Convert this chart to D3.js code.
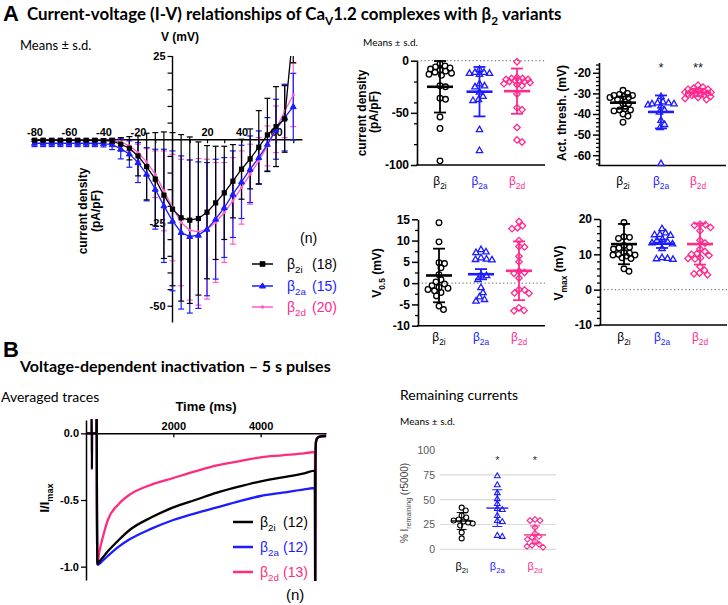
<!DOCTYPE html>
<html><head><meta charset="utf-8">
<script src="https://cdn.jsdelivr.net/npm/d3@7/dist/d3.min.js"></script>
<style>html,body{margin:0;padding:0;background:#fff;}svg{display:block;}</style>
</head><body>
<svg id="fig" width="728" height="605" xmlns="http://www.w3.org/2000/svg"></svg>
<script>
// ================= DATA =================
const groupSubs = ['2i', '2a', '2d'];

// Panel A – I-V curves
const ivVoltage = [-80,-75,-70,-65,-60,-55,-50,-45,-40,-35,-30,-25,-20,-15,-10,-5,0,5,10,15,20,25,30,35,40,45,50,55,60,65,70];
const ivB2iMean = [-0.3,-0.3,-0.3,-0.3,-0.3,-0.3,-0.3,-0.3,-0.4,-0.5,-1.5,-2.7,-5.0,-8.2,-12.0,-16.8,-21.0,-23.6,-24.3,-23.8,-21.9,-19.1,-16.1,-12.6,-9.0,-5.9,-2.4,1.3,3.8,6.1,33.0];
const ivB2iSd   = [0.3,0.3,0.3,0.3,0.3,0.3,0.3,0.4,0.5,0.8,2,3.5,6,10,14,19,23,25,25,23,20,17,14,11,9,9,11,11,12,10,10];
const ivB2aMean = [-1.2,-1.2,-1.2,-1.2,-1.2,-1.2,-1.2,-1.2,-1.3,-1.6,-2.9,-4.4,-7.0,-10.5,-15.0,-20.0,-24.5,-28.0,-29.2,-28.8,-27.0,-24.0,-20.5,-16.5,-12.8,-9.0,-5.5,-1.5,3.0,6.5,9.8];
const ivB2aSd   = [1,1,1,1,1,1,1,1,1,1.5,3,4,6,8,12,17,21,23,23,22,20,18,15,13,11,10,8,8,9,10,10];
const ivB2dMean = [-0.3,-0.3,-0.3,-0.3,-0.3,-0.3,-0.3,-0.3,-0.3,-0.4,-0.8,-2.0,-4.0,-6.8,-10.5,-15.5,-20.5,-25.0,-27.3,-27.8,-27.0,-25.0,-22.0,-18.5,-14.5,-10.5,-6.5,-2.0,3.0,8.5,13.3];
const ivB2dSd   = [0.4,0.4,0.4,0.4,0.4,0.4,0.4,0.4,0.4,0.5,1,1.5,2.5,4,7,12,16,19,21,22,21,18,15,13,11,9,7,6,7,8,9.5];
const ivN = [18, 15, 20];
const ivXTickMarks = [-80,-70,-60,-50,-40,-30,-20,-10,10,20,30,40,50,60,70];
const ivXTicks = [-80,-60,-40,-20,20,40,60];
const ivYTickMarks = [25,20,15,10,5,-5,-10,-15,-20,-25,-30,-35,-40,-45,-50];
const ivYTicks = [25,-25,-50];

// Current density (pA/pF)
const cdB2i = [-3,-5,-6,-7,-8,-9,-10,-11,-12,-13,-14,-24,-25,-36,-37,-54,-65,-96];
const cdB2a = [-8,-11,-11,-12,-12,-13,-22,-24,-25,-30,-34,-37,-38,-66,-86];
const cdB2d = [-1,-16,-17,-17,-18,-18,-19,-19,-20,-20,-21,-22,-23,-24,-32,-45,-47,-64,-76,-78];
const cdMean = [-25.0,-29.7,-29.2];
const cdSd = [24.7,23.7,21.7];
const cdTicks = [0,-50,-100];
const cdMinor = [-20,-40,-60,-80];

// Activation threshold (mV)
const thrB2i = [-28.5,-30,-30.5,-31,-31,-31.5,-32,-32,-33,-35,-35,-37.5,-38,-38,-38.5,-40,-41,-44];
const thrB2a = [-31.5,-34,-34.5,-34.5,-35,-35,-35.5,-36,-38,-39,-43,-45,-46.5,-64];
const thrB2d = [-26,-27,-27.5,-28,-28,-28.5,-29,-29,-29.5,-29.5,-30,-30,-30,-30.5,-31,-31,-31.5,-32,-32.5,-33];
const thrMean = [-34.5,-39.0,-29.6];
const thrSd = [3,8,1.8];
const thrTicks = [-20,-30,-40,-50,-60];
const thrMinor = [-16,-18,-22,-24,-26,-28,-32,-34,-36,-38,-42,-44,-46,-48,-52,-54,-56,-58,-62,-64];
const thrStars = ['', '*', '**'];

// V0.5 (mV)
const vhB2i = [14.2,9.7,4.8,4.6,3.6,2.0,0.8,0.3,-0.2,-0.6,-1.0,-1.2,-1.5,-1.8,-2.2,-3.0,-5.4,-6.2];
const vhB2a = [7.9,7.4,7.2,6.0,5.7,5.6,5.5,2.0,1.8,0.9,-1.0,-2.2,-3.2,-3.8,-4.2];
const vhB2d = [14.5,13.5,13.0,12.8,10.0,8.6,8.5,6.3,5.0,2.8,2.5,2.3,1.2,-1.5,-1.6,-2.3,-2.4,-5.8,-6.4,-6.5];
const vhMean = [1.8,2.1,2.9];
const vhSd = [6.3,1.2,6.9];
const vhTicks = [15,10,5,0,-5,-10];
const vhMinor = [12.5,7.5,2.5,-2.5,-7.5];

// Vmax (mV)
const vmB2i = [19.0,15.0,14.8,14.5,12.5,12.0,11.8,11.5,10.5,10.3,10.0,9.8,9.8,9.5,9.0,8.8,5.9,5.2];
const vmB2a = [17.3,16.1,15.7,15.6,15.4,14.3,14.0,13.6,13.3,13.0,11.7,9.1,8.9,8.8,8.6];
const vmB2d = [18.5,18.4,18.2,17.6,16.7,14.0,13.2,11.5,10.8,10.2,10.0,9.7,9.0,8.8,8.7,6.5,5.5,4.7,4.5,4.2];
const vmMean = [12.9,13.0,12.9];
const vmSd = [5.7,1.2,5.8];
const vmTicks = [20,10,0,-10];
const vmMinor = [18,16,14,12,8,6,4,2,-2,-4,-6,-8];

// Panel B – averaged traces (time in ms, normalized current)
const traceTime = [0,125,130,135,140,240,245,250,262,300,400,500,750,1000,1500,2000,2500,3000,3500,4000,4500,5000,5245,5250,5256,5270,5300,5350,5450,5500];
const traceB2i = [0,0,0.2,-0.27,0,0,0.2,-0.5,-0.98,-0.965,-0.925,-0.885,-0.80,-0.725,-0.63,-0.555,-0.50,-0.445,-0.40,-0.36,-0.33,-0.30,-0.28,-1.3,-0.2,-0.06,-0.035,-0.025,-0.02,-0.02];
const traceB2a = [0,0,0,0,0,0,0.2,-0.5,-0.985,-0.98,-0.95,-0.92,-0.85,-0.795,-0.715,-0.65,-0.60,-0.555,-0.51,-0.47,-0.445,-0.42,-0.41,-1.3,-0.2,-0.06,-0.035,-0.025,-0.02,-0.02];
const traceB2d = [0,0,0,0,0,0,0.2,-0.5,-0.98,-0.90,-0.76,-0.65,-0.53,-0.46,-0.385,-0.335,-0.285,-0.24,-0.21,-0.18,-0.165,-0.15,-0.14,-1.3,-0.2,-0.06,-0.035,-0.025,-0.02,-0.02];
const traceN = [12, 12, 13];
const traceXTicks = [2000, 4000];
const traceYTicks = [0, -0.5, -1.0];

// Remaining currents (%)
const remB2i = [42,39,34,32,30,29,28,27,26,24,17,11];
const remB2a = [74,65,57,51,46,41,40,34,29,28,14,13];
const remB2d = [30,29,29,22,16,13,12,10,8,5,4,3,2];
const remMean = [28.5,41.5,14.5];
const remSd = [8.5,18.5,9];
const remTicks = [0,25,50,75,100];
const remGrid = [0,25,50,75];
const remStars = ['', '*', '*'];

// ================= DRAWING =================
const svg = d3.select('#fig');
const ARIAL = "'Liberation Sans', Arial, sans-serif";
const CAL = "Lato, 'Open Sans', sans-serif";
const C_BLACK = '#000000', C_BLUE = '#1c1cff', C_PINK = '#ff2a8c', C_PINK_IV = '#ff5cc6', C_PINK_TR = '#ff2b80';
const groupColors = [C_BLACK, C_BLUE, C_PINK];
const defs = svg.append('defs');

function fitWidth(sel, w) {
  const cur = sel.node().getBBox().width;
  const fs = parseFloat(sel.attr('font-size'));
  sel.attr('font-size', fs * w / cur);
}
function richText(g, x, y, parts, o) {
  const t = g.append('text').attr('x', x).attr('y', y)
    .attr('font-family', o.font || ARIAL).attr('font-size', o.size)
    .attr('font-weight', o.weight || 'normal').attr('fill', o.color || '#000')
    .attr('text-anchor', o.anchor || 'start');
  if (o.transform) t.attr('transform', o.transform);
  let down = false;
  parts.forEach(([s, sub]) => {
    const ts = t.append('tspan').text(s);
    if (sub && !down) { ts.attr('font-size', '70%').attr('dy', '0.43em'); down = true; }
    else if (sub && down) { ts.attr('font-size', '70%'); }
    else if (!sub && down) { ts.attr('dy', '-0.3em'); down = false; }
  });
  return t;
}
function marker(g, type, x, y, s, color, sw, fill) {
  if (type === 'circle') {
    g.append('circle').attr('cx', x).attr('cy', y).attr('r', s)
      .attr('fill', fill || 'none').attr('stroke', color).attr('stroke-width', sw);
  } else if (type === 'triangle') {
    const a = s * 1.2;
    g.append('path').attr('d', `M${x},${y - a}L${x + a * 0.95},${y + a * 0.65}L${x - a * 0.95},${y + a * 0.65}Z`)
      .attr('fill', fill || 'none').attr('stroke', color).attr('stroke-width', sw);
  } else if (type === 'diamond') {
    const a = s * 1.15;
    g.append('path').attr('d', `M${x},${y - a}L${x + a},${y}L${x},${y + a}L${x - a},${y}Z`)
      .attr('fill', fill || 'none').attr('stroke', color).attr('stroke-width', sw);
  } else if (type === 'square') {
    g.append('rect').attr('x', x - s).attr('y', y - s).attr('width', 2 * s).attr('height', 2 * s)
      .attr('fill', color);
  } else if (type === 'dot') {
    g.append('circle').attr('cx', x).attr('cy', y).attr('r', s).attr('fill', color);
  }
}
// compact beeswarm: spread points sideways, limited to +-maxOff (overlap allowed when crowded)
function swarm(vals, y, cx, rc, maxOff) {
  const pts = vals.map(v => ({ v, y: y(v) })).sort((a, b) => a.y - b.y);
  const placed = [];
  pts.forEach(p => {
    let best = 0, bestScore = -1;
    for (let k = 0; ; k++) {
      const off = (k % 2 ? 1 : -1) * Math.ceil(k / 2) * 0.5;
      if (Math.abs(off) > maxOff) break;
      const md = placed.length ? Math.min(...placed.map(q => Math.hypot(q.x - (cx + off), q.y - p.y))) : Infinity;
      if (md >= 2 * rc) { best = off; break; }
      if (md > bestScore) { bestScore = md; best = off; }
    }
    p.x = cx + best; placed.push(p);
  });
  return pts;
}

// ---------- Headers ----------
svg.append('text').attr('x', 3).attr('y', 21).attr('font-family', ARIAL).attr('font-weight', 'bold')
  .attr('font-size', 22).text('A');
const tA = richText(svg, 27, 20, [['Current-voltage (I-V) relationships of Ca', 0], ['V', 1], ['1.2 complexes with β', 0], ['2', 1], [' variants', 0]],
  { font: CAL, size: 16, weight: 'bold' });
fitWidth(tA, 535);
svg.append('text').attr('x', 20).attr('y', 50).attr('font-family', CAL).attr('font-size', 13).text('Means ± s.d.');
svg.append('text').attr('x', 363).attr('y', 46).attr('font-family', CAL).attr('font-size', 10).text('Means ± s.d.');

svg.append('text').attr('x', 3).attr('y', 357).attr('font-family', ARIAL).attr('font-weight', 'bold')
  .attr('font-size', 22).text('B');
const tB = svg.append('text').attr('x', 20).attr('y', 372).attr('font-family', CAL).attr('font-weight', 'bold')
  .attr('font-size', 16).text('Voltage-dependent inactivation – 5 s pulses');
fitWidth(tB, 312);
svg.append('text').attr('x', 1).attr('y', 402).attr('font-family', CAL).attr('font-size', 14).text('Averaged traces');
svg.append('text').attr('x', 400).attr('y', 400).attr('font-family', CAL).attr('font-size', 14).text('Remaining currents');
svg.append('text').attr('x', 400).attr('y', 425).attr('font-family', CAL).attr('font-size', 10).text('Means ± s.d.');

// ---------- I-V chart ----------
(function () {
  const g = svg.append('g');
  const x = d3.scaleLinear().domain([-80, 75]).range([34.5, 301.9]);
  const y = d3.scaleLinear().domain([25, -55]).range([56, 322.4]);
  defs.append('clipPath').attr('id', 'ivClip').append('rect').attr('x', 25).attr('y', 56).attr('width', 285).attr('height', 268);

  const ya = g.append('g').attr('transform', `translate(${x(0)},0)`)
    .call(d3.axisLeft(y).tickValues(ivYTickMarks).tickSize(5).tickSizeOuter(0).tickPadding(2)
      .tickFormat(d => ivYTicks.includes(d) ? String(d) : ''));
  const xa = g.append('g').attr('transform', `translate(0,${y(0)})`)
    .call(d3.axisBottom(x).tickValues(ivXTickMarks).tickSize(4).tickSizeOuter(0)
      .tickFormat(d => ivXTicks.includes(d) ? String(d) : ''));
  xa.selectAll('text').attr('y', -3).attr('dy', 0);
  [ya, xa].forEach(a => {
    a.selectAll('text').attr('font-family', ARIAL).attr('font-weight', 'bold').attr('font-size', 11).attr('fill', '#000');
    a.select('.domain').attr('stroke-width', 1.4);
    a.selectAll('.tick line').attr('stroke-width', 1.2);
  });
  ya.select('.domain').attr('d', `M0,${y(25)}V${y(-55)}`);

  g.append('text').attr('x', 180).attr('y', 41).attr('text-anchor', 'middle').attr('font-family', ARIAL)
    .attr('font-weight', 'bold').attr('font-size', 12).text('V (mV)');
  g.append('text').attr('transform', 'translate(87,211) rotate(-90)').attr('text-anchor', 'middle')
    .attr('font-family', ARIAL).attr('font-weight', 'bold').attr('font-size', 12).text('current density');
  g.append('text').attr('transform', 'translate(100,211) rotate(-90)').attr('text-anchor', 'middle')
    .attr('font-family', ARIAL).attr('font-weight', 'bold').attr('font-size', 12).text('(pA/pF)');

  const series = [
    { m: ivB2dMean, s: ivB2dSd, c: C_PINK_IV, mk: 'dot', ms: 1.6 },
    { m: ivB2aMean, s: ivB2aSd, c: C_BLUE, mk: 'triangleF', ms: 2.6 },
    { m: ivB2iMean, s: ivB2iSd, c: C_BLACK, mk: 'square', ms: 2.6 }
  ];
  const plot = g.append('g').attr('clip-path', 'url(#ivClip)');
  series.forEach(se => {
    ivVoltage.forEach((v, i) => {
      const lo = y(se.m[i] - se.s[i]), hi = y(se.m[i] + se.s[i]), cx = x(v);
      plot.append('line').attr('x1', cx).attr('x2', cx).attr('y1', lo).attr('y2', hi).attr('stroke', se.c).attr('stroke-width', 1.2);
      [lo, hi].forEach(yy => plot.append('line').attr('x1', cx - 3).attr('x2', cx + 3).attr('y1', yy).attr('y2', yy)
        .attr('stroke', se.c).attr('stroke-width', 1.2));
    });
  });
  series.forEach(se => {
    plot.append('path').datum(ivVoltage.map((v, i) => [v, se.m[i]]))
      .attr('d', d3.line().x(d => x(d[0])).y(d => y(d[1])))
      .attr('fill', 'none').attr('stroke', se.c).attr('stroke-width', 1.3);
    ivVoltage.forEach((v, i) => {
      if (se.mk === 'triangleF') marker(plot, 'triangle', x(v), y(se.m[i]), se.ms, se.c, 1, se.c);
      else marker(plot, se.mk, x(v), y(se.m[i]), se.ms, se.c, 1);
    });
  });

  g.append('text').attr('x', 300).attr('y', 243).attr('font-family', ARIAL).attr('font-size', 14).text('(n)');
  const leg = [
    { sub: '2i', c: C_BLACK, tc: '#000', mk: 'square', y: 264 },
    { sub: '2a', c: C_BLUE, tc: C_BLUE, mk: 'triangleF', y: 286 },
    { sub: '2d', c: C_PINK_IV, tc: C_PINK, mk: 'dot', y: 307 }
  ];
  leg.forEach((l, i) => {
    g.append('line').attr('x1', 252).attr('x2', 273).attr('y1', l.y).attr('y2', l.y).attr('stroke', l.c).attr('stroke-width', 1.5);
    if (l.mk === 'triangleF') marker(g, 'triangle', 262.5, l.y, 2.6, l.c, 1, l.c);
    else if (l.mk === 'square') marker(g, 'square', 262.5, l.y, 2.8, l.c, 1);
    else marker(g, 'dot', 262.5, l.y, 1.8, l.c, 1);
    richText(g, 287, l.y + 5, [['β', 0], [l.sub, 1]], { size: 14, color: l.tc });
    g.append('text').attr('x', 312).attr('y', l.y + 5).attr('font-family', ARIAL).attr('font-size', 14)
      .attr('fill', l.tc).text(`(${ivN[i]})`);
  });
})();

// ---------- dot plots ----------
function dotPlot(c) {
  const g = svg.append('g');
  const y = d3.scaleLinear().domain(c.domain).range(c.range);
  const yBottom = c.range[1];
  if (c.zero) g.append('line').attr('x1', c.ax).attr('x2', c.xEnd).attr('y1', y(0)).attr('y2', y(0))
    .attr('stroke', '#666').attr('stroke-width', 1).attr('stroke-dasharray', '1.3,2.4');
  g.append('g').attr('transform', `translate(${c.ax},0)`)
    .call(d3.axisLeft(y).tickValues(c.minor).tickSize(3).tickFormat(''))
    .call(s => { s.select('.domain').remove(); s.selectAll('.tick line').attr('stroke-width', 1.3); });
  const a = g.append('g').attr('transform', `translate(${c.ax},0)`)
    .call(d3.axisLeft(y).tickValues(c.major).tickSize(6).tickSizeOuter(0).tickPadding(2).tickFormat(d => String(d)));
  a.selectAll('text').attr('font-family', ARIAL).attr('font-weight', 'bold').attr('font-size', 12).attr('fill', '#000');
  a.select('.domain').attr('stroke-width', 1.6);
  a.selectAll('.tick line').attr('stroke-width', 1.5);
  g.append('line').attr('x1', c.ax - 0.8).attr('x2', c.xEnd).attr('y1', yBottom).attr('y2', yBottom)
    .attr('stroke', '#000').attr('stroke-width', 1.6);

  const types = ['circle', 'triangle', 'diamond'];
  c.data.forEach((vals, gi) => {
    const col = groupColors[gi], cx = c.cats[gi];
    swarm(vals, y, cx, 2.7, 13).forEach(p => marker(g, types[gi], p.x, p.y, 2.8, col, 1.3));
    const m = c.means[gi], s = c.sds[gi];
    const lo = y(m - s), hi = y(m + s);
    g.append('line').attr('x1', cx).attr('x2', cx).attr('y1', lo).attr('y2', hi).attr('stroke', col).attr('stroke-width', 1.8);
    [lo, hi].forEach(yy => g.append('line').attr('x1', cx - 6).attr('x2', cx + 6).attr('y1', yy).attr('y2', yy)
      .attr('stroke', col).attr('stroke-width', 1.8));
    g.append('line').attr('x1', cx - 13).attr('x2', cx + 13).attr('y1', y(m)).attr('y2', y(m))
      .attr('stroke', col).attr('stroke-width', 2.6);
    richText(g, cx, c.catY, [['β', 0], [groupSubs[gi], 1]], { size: 12, color: col, anchor: 'middle' });
    if (c.stars && c.stars[gi]) g.append('text').attr('x', cx).attr('y', c.starY).attr('text-anchor', 'middle')
      .attr('font-family', ARIAL).attr('font-size', 13).attr('fill', '#222').text(c.stars[gi]);
  });
  c.labels.forEach(l => richText(g, 0, 0, l.parts, { size: 12, weight: 'bold', anchor: 'middle',
    transform: `translate(${l.x},${l.y}) rotate(-90)` }));
}

dotPlot({ ax: 417, xEnd: 545, domain: [0, -100], range: [60.7, 165], major: cdTicks, minor: cdMinor, zero: true,
  cats: [440, 479.5, 517], data: [cdB2i, cdB2a, cdB2d], means: cdMean, sds: cdSd, catY: 185,
  labels: [{ x: 366, y: 113, parts: [['current density', 0]] }, { x: 378, y: 112, parts: [['(pA/pF)', 0]] }] });
dotPlot({ ax: 599, xEnd: 726, domain: [-15, -65], range: [62.5, 165.5], major: thrTicks, minor: thrMinor, zero: false,
  cats: [623, 661, 698], data: [thrB2i, thrB2a, thrB2d], means: thrMean, sds: thrSd, catY: 185,
  stars: thrStars, starY: 72,
  labels: [{ x: 566, y: 113, parts: [['Act. thresh. (mV)', 0]] }] });
dotPlot({ ax: 418, xEnd: 545, domain: [15, -10], range: [219.3, 325.7], major: vhTicks, minor: vhMinor, zero: true,
  cats: [439, 481, 519], data: [vhB2i, vhB2a, vhB2d], means: vhMean, sds: vhSd, catY: 341,
  labels: [{ x: 381, y: 273, parts: [['V', 0], ['0.5', 1], [' (mV)', 0]] }] });
dotPlot({ ax: 600, xEnd: 727, domain: [20, -10], range: [219, 325], major: vmTicks, minor: vmMinor, zero: true,
  cats: [624, 662, 700], data: [vmB2i, vmB2a, vmB2d], means: vmMean, sds: vmSd, catY: 341,
  labels: [{ x: 563, y: 273, parts: [['V', 0], ['max', 1], [' (mV)', 0]] }] });

// ---------- Panel B traces ----------
(function () {
  const g = svg.append('g');
  const x = d3.scaleLinear().domain([0, 5500]).range([86, 326.1]);
  const y = d3.scaleLinear().domain([0.1, -1.1]).range([420, 580]);
  defs.append('clipPath').attr('id', 'trClip').append('rect').attr('x', 86).attr('y', 419).attr('width', 245).attr('height', 162);

  const ya = g.append('g').attr('transform', 'translate(86,0)')
    .call(d3.axisLeft(y).tickValues(traceYTicks).tickSize(5).tickSizeOuter(0).tickPadding(2).tickFormat(d => d.toFixed(1)));
  const xa = g.append('g').attr('transform', `translate(0,${y(0)})`)
    .call(d3.axisBottom(x).tickValues(traceXTicks).tickSize(4).tickSizeOuter(0).tickFormat(d => String(d)));
  xa.selectAll('text').attr('y', -3).attr('dy', 0);
  [ya, xa].forEach(a => {
    a.selectAll('text').attr('font-family', ARIAL).attr('font-weight', 'bold').attr('font-size', 11).attr('fill', '#000');
    a.select('.domain').attr('stroke-width', 1.5);
    a.selectAll('.tick line').attr('stroke-width', 1.3);
  });
  g.append('text').attr('x', 206).attr('y', 411).attr('text-anchor', 'middle').attr('font-family', ARIAL)
    .attr('font-weight', 'bold').attr('font-size', 13).text('Time (ms)');
  richText(g, 0, 0, [['I/I', 0], ['max', 1]], { size: 13, weight: 'bold', anchor: 'middle', transform: 'translate(49,498) rotate(-90)' });

  const plot = g.append('g').attr('clip-path', 'url(#trClip)');
  const line = d3.line().x(d => x(d[0])).y(d => y(d[1])).curve(d3.curveMonotoneX);
  [[traceB2a, C_BLUE], [traceB2d, C_PINK_TR], [traceB2i, C_BLACK]].forEach(([vals, col]) => {
    plot.append('path').datum(traceTime.map((t, i) => [t, vals[i]])).attr('d', line)
      .attr('fill', 'none').attr('stroke', col).attr('stroke-width', 2.3).attr('stroke-linejoin', 'round');
  });

  const leg = [[C_BLACK, '#000', '2i', 522], [C_BLUE, C_BLUE, '2a', 547], [C_PINK_TR, C_PINK_TR, '2d', 572]];
  leg.forEach(([c, tc, sub, yy], i) => {
    g.append('line').attr('x1', 233).attr('x2', 253).attr('y1', yy).attr('y2', yy).attr('stroke', c).attr('stroke-width', 2.5);
    richText(g, 260, yy + 5, [['β', 0], [sub, 1]], { size: 14, color: tc });
    g.append('text').attr('x', 283).attr('y', yy + 5).attr('font-family', ARIAL).attr('font-size', 14).attr('fill', tc)
      .text(`(${traceN[i]})`);
  });
  g.append('text').attr('x', 286).attr('y', 600).attr('font-family', ARIAL).attr('font-size', 15).text('(n)');
})();

// ---------- Remaining currents ----------
(function () {
  const g = svg.append('g');
  const y = d3.scaleLinear().domain([0, 100]).range([549.3, 450]);
  remGrid.forEach(v => g.append('line').attr('x1', 440).attr('x2', 556).attr('y1', y(v)).attr('y2', y(v))
    .attr('stroke', '#d9d9d9').attr('stroke-width', 1.2));
  const a = g.append('g').attr('transform', 'translate(440,0)')
    .call(d3.axisLeft(y).tickValues(remTicks).tickSize(0).tickPadding(5).tickFormat(d => String(d)));
  a.select('.domain').remove();
  a.selectAll('text').attr('font-family', ARIAL).attr('font-size', 10.5).attr('fill', '#595959');
  richText(g, 0, 0, [['% I', 0], ['remaining', 1], [' (r5000)', 0]], { size: 10, color: '#404040', anchor: 'middle',
    transform: 'translate(408,503) rotate(-90)' });
  const cats = [461.7, 497.3, 535];
  const data = [remB2i, remB2a, remB2d];
  const types = ['circle', 'triangle', 'diamond'];
  data.forEach((vals, gi) => {
    const col = groupColors[gi], cx = cats[gi];
    swarm(vals, y, cx, 2.4, 11).forEach(p => marker(g, types[gi], p.x, p.y, 2.5, col, 1.1));
    const m = remMean[gi], s = remSd[gi];
    const lo = y(m - s), hi = y(m + s);
    g.append('line').attr('x1', cx).attr('x2', cx).attr('y1', lo).attr('y2', hi).attr('stroke', col).attr('stroke-width', 1);
    [lo, hi].forEach(yy => g.append('line').attr('x1', cx - 5).attr('x2', cx + 5).attr('y1', yy).attr('y2', yy)
      .attr('stroke', col).attr('stroke-width', 1));
    g.append('line').attr('x1', cx - 11).attr('x2', cx + 11).attr('y1', y(m)).attr('y2', y(m))
      .attr('stroke', col).attr('stroke-width', 1.4);
    richText(g, cx, 570, [['β', 0], [groupSubs[gi], 1]], { size: 11, color: col, anchor: 'middle' });
    if (remStars[gi]) g.append('text').attr('x', cx).attr('y', 464).attr('text-anchor', 'middle')
      .attr('font-family', ARIAL).attr('font-size', 11).attr('fill', '#333').text(remStars[gi]);
  });
})();
</script>
</body></html>
